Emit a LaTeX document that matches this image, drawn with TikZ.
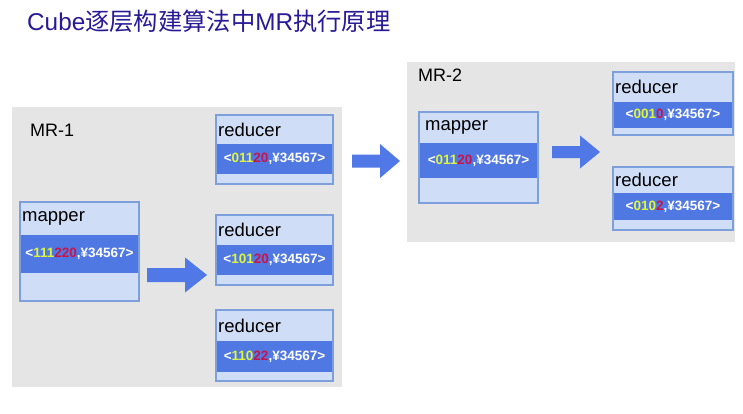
\documentclass[tikz,border=0pt]{standalone}
\usepackage{fontspec}
\setmainfont{Liberation Sans}
\newfontfamily\cjkfont{Noto Sans CJK SC}
\definecolor{panelgray}{RGB}{229,229,229}
\definecolor{boxfill}{RGB}{207,221,246}
\definecolor{boxborder}{RGB}{125,160,220}
\definecolor{bandblue}{RGB}{80,120,226}
\definecolor{arrowblue}{RGB}{80,120,230}
\definecolor{ylw}{RGB}{222,246,60}
\definecolor{rdd}{RGB}{200,20,72}
\definecolor{titleblue}{RGB}{40,25,150}
\newcommand\ydig[1]{\textcolor{ylw}{#1}}
\newcommand\rdig[1]{\textcolor{rdd}{#1}}
\newcommand\mrbox[9]{%
  \pgfmathsetmacro\mbw{#4-#2}\pgfmathsetmacro\mbh{#7-#3}%
  \pgfmathsetmacro\mhh{#6-#5}\pgfmathsetmacro\mhy{(#3+#5)/2}%
  \node[boxbg, minimum width=\mbw pt, minimum height=\mbh pt, anchor=north west] (#1) at (#2,#3) {};
  \node[bandbg, minimum width=\mbw pt, minimum height=\mhh pt, anchor=north west] (#1-band) at (#2,#5) {#9};
  \node[hdrtext, anchor=west] (#1-hdr) at (#2+2,\mhy) {#8};
  \draw[boxline] (#1.north west) rectangle (#1.south east);
}
% block arrow: name, x start, x head start, x tip, y centre, shaft half, head half
\newcommand\blockarrow[7]{%
  \coordinate (#1-start) at (#2,#5);
  \coordinate (#1-tip) at (#4,#5);
  \fill[arrowblue] (#2,#5-#6) -- (#3,#5-#6) -- (#3,#5-#7) -- (#1-tip)
    -- (#3,#5+#7) -- (#3,#5+#6) -- (#2,#5+#6) -- cycle;
}
\tikzset{
  panel/.style={fill=panelgray, draw=none, inner sep=0pt, outer sep=0pt},
  boxbg/.style={fill=boxfill, draw=none, inner sep=0pt, outer sep=0pt},
  bandbg/.style={fill=bandblue, draw=none, inner sep=0pt, outer sep=0pt, text=white,
    font=\fontsize{13.5}{15}\selectfont\bfseries},
  hdrtext/.style={inner sep=0pt, font=\fontsize{18.5}{20}\selectfont, text=black},
  boxline/.style={draw=boxborder, line width=1.3pt},
  paneltext/.style={inner sep=0pt, font=\fontsize{18}{20}\selectfont, text=black, anchor=west}
}
\begin{document}
\begin{tikzpicture}[x=1pt,y=-1pt]
\useasboundingbox (0,0) rectangle (743,413);
\fill[white] (0,0) rectangle (743,413);
% title
\node[inner sep=0pt, anchor=west, text=titleblue, font=\fontsize{24.3}{26}\selectfont] (title) at (27,21)
  {Cube{\cjkfont 逐层构建算法中}MR{\cjkfont 执行原理}};
% panels
\node[panel, minimum width=330pt, minimum height=280pt, anchor=north west] (mr1) at (12,107) {};
\node[panel, minimum width=328pt, minimum height=180pt, anchor=north west] (mr2) at (407,62) {};
\node[paneltext] (mr1lbl) at (30,130) {MR-1};
\node[paneltext] (mr2lbl) at (418,75) {MR-2};
% boxes
\mrbox{map1}{20}{202}{139}{235}{273}{301}{mapper}{<\ydig{111}\rdig{220},¥34567>}
\mrbox{red1}{216}{115}{333}{144}{174}{184}{reducer}{<\ydig{011}\rdig{20},¥34567>}
\mrbox{red2}{216}{215}{333}{245}{275}{285}{reducer}{<\ydig{101}\rdig{20},¥34567>}
\mrbox{red3}{216}{310}{333}{341}{372}{381}{reducer}{<\ydig{110}\rdig{22},¥34567>}
\mrbox{map2}{419}{112}{538}{143}{178}{203}{\hspace{4pt}mapper}{<\ydig{011}\rdig{20},¥34567>}
\mrbox{red4}{613}{72}{733}{102}{128}{135}{reducer}{<\ydig{001}\rdig{0},¥34567>}
\mrbox{red5}{613}{167}{733}{193}{220}{230}{reducer}{<\ydig{010}\rdig{2},¥34567>}
% arrows
\blockarrow{arr1}{147}{185}{207}{275}{7}{17.5}
\blockarrow{arr2}{352}{380}{400}{161}{6.5}{17}
\blockarrow{arr3}{552}{580}{600}{152}{6}{16.5}
\end{tikzpicture}
\end{document}
